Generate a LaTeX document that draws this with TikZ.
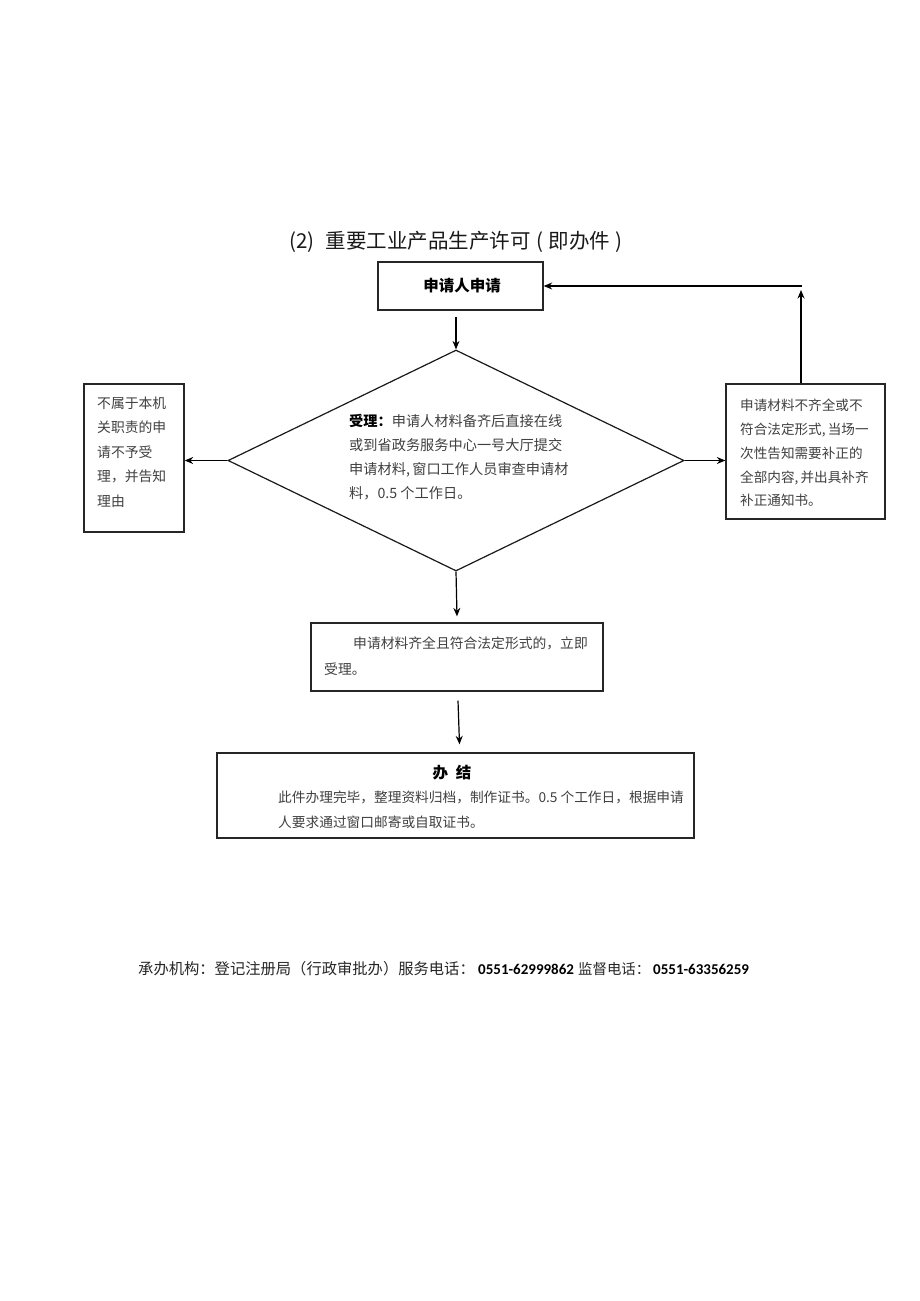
\documentclass[tikz,border=0pt]{standalone}
\usepackage{fontspec}
\setmainfont{Noto Sans CJK SC}
\newfontfamily\numfont{Carlito}
\usetikzlibrary{arrows.meta,shapes.geometric}
\begin{document}
\begin{tikzpicture}[x=1pt,y=-1pt,
  box/.style={draw=black!85,line width=1.3pt,inner sep=0pt},
  arr/.style={draw=black,line width=1.2pt,-{Stealth[length=8.5pt,width=7pt]}},
  txt/.style={anchor=base west,inner sep=0pt,text=black!75},
  fs/.style={font=\fontsize{#1}{#1}\selectfont},
]
\fill[white] (0,0) rectangle (920,1301);
\useasboundingbox (0,0) rectangle (920,1301);

% title
\node[txt,text=black!90,fs=20.5] (title) at (289,248) {(2)\hspace{0.55em}重要工业产品生产许可\hspace{0.3em}(\hspace{0.25em}即办件\hspace{0.25em})};

% boxes
\node[box,minimum width=165pt,minimum height=48pt] (apply) at (460.5,286) {};
\node[anchor=base,inner sep=0pt,text=black,font=\bfseries\fontsize{15.5}{16}\selectfont] (applyt) at (462,291) {申请人申请};

\node[draw=black!90,line width=1.2pt,diamond,inner sep=0pt,minimum width=456pt,minimum height=221pt] (dia) at (456,460.5) {};

\node[box,minimum width=100pt,minimum height=148pt] (lbox) at (134,458) {};
\node[box,minimum width=159pt,minimum height=135pt] (rbox) at (805.5,451.5) {};
\node[box,minimum width=292pt,minimum height=68pt] (b4) at (457,657) {};
\node[box,minimum width=477pt,minimum height=85pt] (b5) at (455.5,795.5) {};

% connectors
\coordinate (corner) at (801,286);
\draw[arr] ([yshift=-6pt]dia.north |- apply.south) -- (dia.north);
\draw[arr] (dia.west) -- (dia.west -| lbox.east);
\draw[arr] (dia.east) -- (dia.east -| rbox.west);
\draw[arr] (rbox.north -| corner) -- ([yshift=-4pt]corner);
\draw[arr] ([xshift=1pt]corner) -- (apply.east |- corner);
\draw[arr] (dia.south) -- ([yshift=6pt]b4.north);
\draw[arr] ([xshift=1pt,yshift=-9pt]b4.south) -- ([xshift=4pt,yshift=8pt]b5.north);

% left box text
\node[txt,fs=13.8] (l1) at (97,408) {不属于本机};
\node[txt,fs=13.8] (l2) at (97,432.5) {关职责的申};
\node[txt,fs=13.8] (l3) at (97,457) {请不予受};
\node[txt,fs=13.8] (l4) at (97,481.5) {理，并告知};
\node[txt,fs=13.8] (l5) at (97,506) {理由};

% right box text
\node[txt,fs=13.6] (r1) at (740,410) {申请材料不齐全或不};
\node[txt,fs=13.6] (r2) at (740,434) {符合法定形式,\,当场一};
\node[txt,fs=13.6] (r3) at (740,458) {次性告知需要补正的};
\node[txt,fs=13.6] (r4) at (740,482) {全部内容,\,并出具补齐};
\node[txt,fs=13.6] (r5) at (740,505) {补正通知书。};

% diamond text
\node[txt,fs=14.2] (d1) at (349,426) {{\bfseries\color{black}受理：}申请人材料备齐后直接在线};
\node[txt,fs=14.2] (d2) at (349,450) {或到省政务服务中心一号大厅提交};
\node[txt,fs=14.2] (d3) at (349,474) {申请材料,\,窗口工作人员审查申请材};
\node[txt,fs=14.2] (d4) at (349,498) {料，0.5 个工作日。};

% box 4 text
\node[txt,fs=13.8] (t41) at (353,648) {申请材料齐全且符合法定形式的，立即};
\node[txt,fs=13.8] (t42) at (324,674) {受理。};

% box 5 text
\node[anchor=base,inner sep=0pt,text=black,font=\bfseries\fontsize{15.5}{16}\selectfont] (t5h) at (452,778) {办\hspace{0.5em}结};
\node[txt,fs=13.7] (t51) at (278,802) {此件办理完毕，整理资料归档，制作证书。0.5 个工作日，根据申请};
\node[txt,fs=13.7] (t52) at (278,827) {人要求通过窗口邮寄或自取证书。};

% footer
\node[txt,text=black!85,fs=15.3] (f1) at (138,974) {承办机构：登记注册局（行政审批办）服务电话：};
\node[txt,text=black,font=\numfont\bfseries\fontsize{15}{16}\selectfont] (n1) at (478,974) {0551-62999862};
\node[txt,text=black!85,fs=14.4] (f2) at (578,974) {监督电话：};
\node[txt,text=black,font=\numfont\bfseries\fontsize{15}{16}\selectfont] (n2) at (653,974) {0551-63356259};
\end{tikzpicture}
\end{document}
